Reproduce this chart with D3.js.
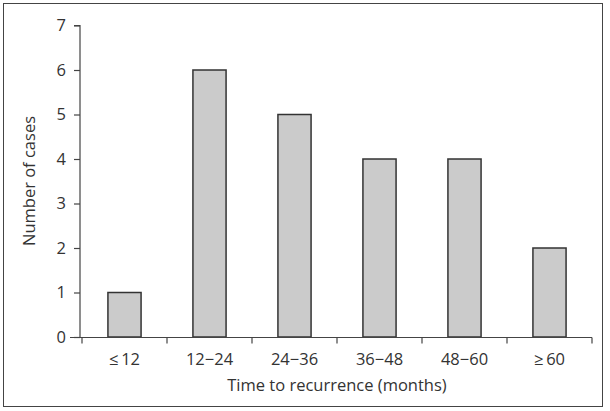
<!DOCTYPE html>
<html><head><meta charset="utf-8">
<script src="https://cdn.jsdelivr.net/npm/d3@7"></script>
<style>body{margin:0;background:#fff}svg{display:block}text{font-family:"Open Sans",sans-serif;fill:#333}</style>
</head><body>
<svg id="c" width="610" height="411"></svg>
<script>
const categories = ["\u2264\u200912", "12\u221224", "24\u221236", "36\u221248", "48\u221260", "\u2265\u200960"];
const values = [1, 6, 5, 4, 4, 2];
const yTicks = [0, 1, 2, 3, 4, 5, 6, 7];

const svg = d3.select("#c");
svg.append("rect").attr("x", 3.5).attr("y", 3.5).attr("width", 599).attr("height", 403)
  .attr("fill", "none").attr("stroke", "#444").attr("stroke-width", 1);

const x = d3.scaleBand().domain(categories).range([82, 592]).paddingInner(0.61).paddingOuter(0.305);
const y = d3.scaleLinear().domain([0, 7]).range([337, 25.5]);

// bars
svg.append("g").selectAll("rect").data(values).join("rect")
  .attr("x", (d, i) => x(categories[i]))
  .attr("y", d => y(d))
  .attr("width", x.bandwidth())
  .attr("height", d => y(0) - y(d))
  .attr("fill", "#cbcbcb").attr("stroke", "#333").attr("stroke-width", 1.5);

// y axis
const ya = svg.append("g").attr("transform", "translate(80,0)")
  .call(d3.axisLeft(y).tickValues(yTicks).tickSize(6).tickPadding(8).tickFormat(d3.format("d")));
ya.selectAll("path,line").attr("stroke", "#444").attr("stroke-width", 1.2);
ya.select(".domain").attr("d", "M-6," + y(7) + "H0V" + y(0));
ya.selectAll("text").style("font-size", "16.5px").attr("fill", "#333");

// x axis
const xa = svg.append("g").attr("transform", "translate(0,337.5)");
xa.append("line").attr("x1", 70).attr("x2", 592).attr("y1", 0).attr("y2", 0).attr("stroke", "#444").attr("stroke-width", 1.2);
const bounds = categories.map(c => x(c) - x.step() * x.paddingInner() / 2).concat([592]);
xa.selectAll("line.t").data(bounds).join("line").attr("class", "t")
  .attr("x1", d => d).attr("x2", d => d).attr("y1", 0).attr("y2", 6).attr("stroke", "#444").attr("stroke-width", 1.2);
xa.selectAll("text").data(categories).join("text")
  .attr("x", d => x(d) + x.bandwidth() / 2).attr("y", 27)
  .attr("text-anchor", "middle").style("font-size", "16.5px").text(d => d);

svg.append("text").attr("x", 337).attr("y", 391).attr("text-anchor", "middle")
  .style("font-size", "16.5px").text("Time to recurrence (months)");
svg.append("text").attr("transform", "translate(35,181) rotate(-90)").attr("text-anchor", "middle")
  .style("font-size", "16.5px").text("Number of cases");
</script>
</body></html>
